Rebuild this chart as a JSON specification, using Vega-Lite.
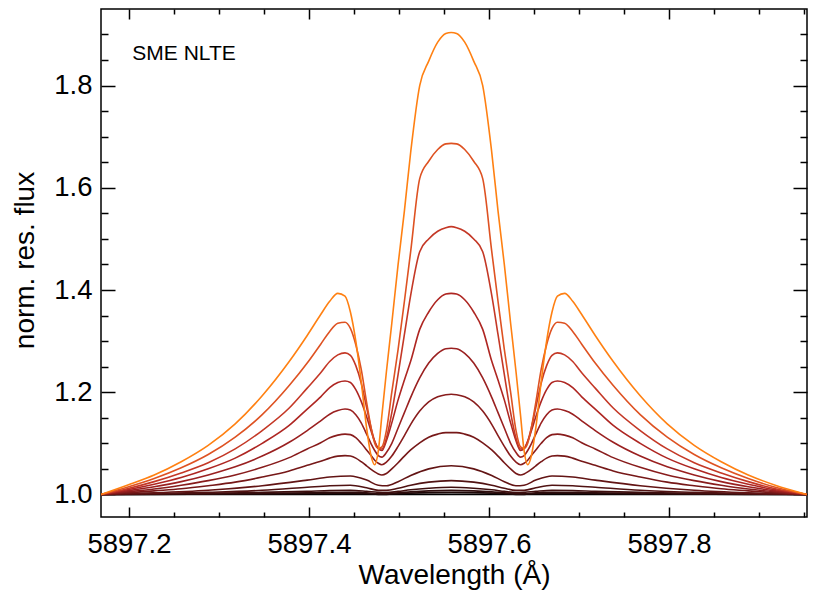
{
"$schema":"https://vega.github.io/schema/vega-lite/v6.json",
"width":706,"height":508,
"autosize":{"type":"none"},
"padding":{"left":101,"top":9,"right":6,"bottom":81},
"background":"white",
"config":{
"view":{"stroke":"black","strokeWidth":1.5},
"axis":{"grid":false,"domain":false,"tickColor":"black","tickWidth":1.5,"labelColor":"black","titleColor":"black","labelFont":"Liberation Sans","titleFont":"Liberation Sans","labelFontSize":27.5,"titleFontSize":28,"titleFontWeight":"normal","labelFlush":false,"labelOverlap":false}
},
"datasets":{
"curves":[
{"s":1,"w":5897.169,"f":1},{"s":1,"w":5897.953,"f":1},
{"s":2,"w":5897.169,"f":1},{"s":2,"w":5897.228,"f":1},{"s":2,"w":5897.288,"f":1.0005},{"s":2,"w":5897.348,"f":1.001},{"s":2,"w":5897.398,"f":1.0015},{"s":2,"w":5897.423,"f":1.002},{"s":2,"w":5897.446,"f":1.002},{"s":2,"w":5897.464,"f":1.0015},{"s":2,"w":5897.477,"f":1},{"s":2,"w":5897.486,"f":1},{"s":2,"w":5897.499,"f":1.0015},{"s":2,"w":5897.513,"f":1.0025},{"s":2,"w":5897.533,"f":1.0035},{"s":2,"w":5897.558,"f":1.004},
{"s":2,"w":5897.583,"f":1.0035},{"s":2,"w":5897.603,"f":1.0025},{"s":2,"w":5897.617,"f":1.0015},{"s":2,"w":5897.630,"f":1},{"s":2,"w":5897.639,"f":1},{"s":2,"w":5897.652,"f":1.0015},{"s":2,"w":5897.670,"f":1.002},{"s":2,"w":5897.693,"f":1.002},{"s":2,"w":5897.718,"f":1.0015},{"s":2,"w":5897.768,"f":1.001},{"s":2,"w":5897.828,"f":1.0005},{"s":2,"w":5897.888,"f":1},{"s":2,"w":5897.953,"f":1},
{"s":3,"w":5897.169,"f":1},{"s":3,"w":5897.228,"f":1.0005},{"s":3,"w":5897.288,"f":1.001},{"s":3,"w":5897.348,"f":1.002},{"s":3,"w":5897.398,"f":1.003},{"s":3,"w":5897.423,"f":1.0035},{"s":3,"w":5897.446,"f":1.004},{"s":3,"w":5897.464,"f":1.003},{"s":3,"w":5897.477,"f":1.0015},{"s":3,"w":5897.486,"f":1.0015},{"s":3,"w":5897.499,"f":1.003},{"s":3,"w":5897.513,"f":1.005},{"s":3,"w":5897.533,"f":1.007},{"s":3,"w":5897.558,"f":1.008},
{"s":3,"w":5897.583,"f":1.007},{"s":3,"w":5897.603,"f":1.005},{"s":3,"w":5897.617,"f":1.003},{"s":3,"w":5897.630,"f":1.0015},{"s":3,"w":5897.639,"f":1.0015},{"s":3,"w":5897.652,"f":1.003},{"s":3,"w":5897.670,"f":1.004},{"s":3,"w":5897.693,"f":1.0035},{"s":3,"w":5897.718,"f":1.003},{"s":3,"w":5897.768,"f":1.002},{"s":3,"w":5897.828,"f":1.001},{"s":3,"w":5897.888,"f":1.0005},{"s":3,"w":5897.953,"f":1},
{"s":4,"w":5897.169,"f":1},{"s":4,"w":5897.228,"f":1.001},{"s":4,"w":5897.288,"f":1.002},{"s":4,"w":5897.348,"f":1.004},{"s":4,"w":5897.398,"f":1.006},{"s":4,"w":5897.423,"f":1.0075},{"s":4,"w":5897.446,"f":1.008},{"s":4,"w":5897.464,"f":1.006},{"s":4,"w":5897.477,"f":1.004},{"s":4,"w":5897.486,"f":1.0035},{"s":4,"w":5897.499,"f":1.006},{"s":4,"w":5897.513,"f":1.009},{"s":4,"w":5897.533,"f":1.012},{"s":4,"w":5897.558,"f":1.014},
{"s":4,"w":5897.583,"f":1.012},{"s":4,"w":5897.603,"f":1.009},{"s":4,"w":5897.617,"f":1.006},{"s":4,"w":5897.630,"f":1.0035},{"s":4,"w":5897.639,"f":1.004},{"s":4,"w":5897.652,"f":1.006},{"s":4,"w":5897.670,"f":1.008},{"s":4,"w":5897.693,"f":1.0075},{"s":4,"w":5897.718,"f":1.006},{"s":4,"w":5897.768,"f":1.004},{"s":4,"w":5897.828,"f":1.002},{"s":4,"w":5897.888,"f":1.001},{"s":4,"w":5897.953,"f":1},
{"s":5,"w":5897.169,"f":1},{"s":5,"w":5897.228,"f":1.0015},{"s":5,"w":5897.288,"f":1.004},{"s":5,"w":5897.348,"f":1.008},{"s":5,"w":5897.398,"f":1.014},{"s":5,"w":5897.423,"f":1.017},{"s":5,"w":5897.446,"f":1.018},{"s":5,"w":5897.464,"f":1.013},{"s":5,"w":5897.477,"f":1.008},{"s":5,"w":5897.486,"f":1.008},{"s":5,"w":5897.499,"f":1.012},{"s":5,"w":5897.513,"f":1.018},{"s":5,"w":5897.533,"f":1.024},{"s":5,"w":5897.558,"f":1.027},
{"s":5,"w":5897.583,"f":1.024},{"s":5,"w":5897.603,"f":1.018},{"s":5,"w":5897.617,"f":1.012},{"s":5,"w":5897.630,"f":1.008},{"s":5,"w":5897.639,"f":1.008},{"s":5,"w":5897.652,"f":1.013},{"s":5,"w":5897.670,"f":1.018},{"s":5,"w":5897.693,"f":1.017},{"s":5,"w":5897.718,"f":1.014},{"s":5,"w":5897.768,"f":1.008},{"s":5,"w":5897.828,"f":1.004},{"s":5,"w":5897.888,"f":1.0015},{"s":5,"w":5897.953,"f":1},
{"s":6,"w":5897.169,"f":1},{"s":6,"w":5897.228,"f":1.003},{"s":6,"w":5897.288,"f":1.008},{"s":6,"w":5897.348,"f":1.017},{"s":6,"w":5897.398,"f":1.028},{"s":6,"w":5897.423,"f":1.034},{"s":6,"w":5897.446,"f":1.036},{"s":6,"w":5897.464,"f":1.028},{"s":6,"w":5897.477,"f":1.018},{"s":6,"w":5897.486,"f":1.017},{"s":6,"w":5897.499,"f":1.025},{"s":6,"w":5897.513,"f":1.037},{"s":6,"w":5897.533,"f":1.05},{"s":6,"w":5897.558,"f":1.056},
{"s":6,"w":5897.583,"f":1.05},{"s":6,"w":5897.603,"f":1.037},{"s":6,"w":5897.617,"f":1.025},{"s":6,"w":5897.630,"f":1.017},{"s":6,"w":5897.639,"f":1.018},{"s":6,"w":5897.652,"f":1.028},{"s":6,"w":5897.670,"f":1.036},{"s":6,"w":5897.693,"f":1.034},{"s":6,"w":5897.718,"f":1.028},{"s":6,"w":5897.768,"f":1.017},{"s":6,"w":5897.828,"f":1.008},{"s":6,"w":5897.888,"f":1.003},{"s":6,"w":5897.953,"f":1},
{"s":7,"w":5897.169,"f":1},{"s":7,"w":5897.198,"f":1.003},{"s":7,"w":5897.228,"f":1.007},{"s":7,"w":5897.258,"f":1.011},{"s":7,"w":5897.288,"f":1.017},{"s":7,"w":5897.318,"f":1.024},{"s":7,"w":5897.348,"f":1.034},{"s":7,"w":5897.378,"f":1.046},{"s":7,"w":5897.398,"f":1.057},{"s":7,"w":5897.413,"f":1.065},{"s":7,"w":5897.423,"f":1.071},{"s":7,"w":5897.432,"f":1.075},{"s":7,"w":5897.440,"f":1.076},{"s":7,"w":5897.446,"f":1.075},{"s":7,"w":5897.452,"f":1.071},{"s":7,"w":5897.458,"f":1.064},{"s":7,"w":5897.464,"f":1.056},{"s":7,"w":5897.469,"f":1.049},{"s":7,"w":5897.473,"f":1.044},{"s":7,"w":5897.477,"f":1.04},{"s":7,"w":5897.481,"f":1.038},{"s":7,"w":5897.486,"f":1.041},{"s":7,"w":5897.492,"f":1.05},{"s":7,"w":5897.499,"f":1.062},{"s":7,"w":5897.506,"f":1.075},{"s":7,"w":5897.513,"f":1.087},{"s":7,"w":5897.523,"f":1.101},{"s":7,"w":5897.533,"f":1.112},{"s":7,"w":5897.543,"f":1.118},{"s":7,"w":5897.552,"f":1.121},{"s":7,"w":5897.558,"f":1.121},
{"s":7,"w":5897.564,"f":1.121},{"s":7,"w":5897.573,"f":1.118},{"s":7,"w":5897.583,"f":1.112},{"s":7,"w":5897.593,"f":1.101},{"s":7,"w":5897.603,"f":1.087},{"s":7,"w":5897.610,"f":1.075},{"s":7,"w":5897.617,"f":1.062},{"s":7,"w":5897.624,"f":1.05},{"s":7,"w":5897.630,"f":1.041},{"s":7,"w":5897.635,"f":1.038},{"s":7,"w":5897.639,"f":1.04},{"s":7,"w":5897.643,"f":1.044},{"s":7,"w":5897.647,"f":1.049},{"s":7,"w":5897.652,"f":1.056},{"s":7,"w":5897.658,"f":1.064},{"s":7,"w":5897.664,"f":1.071},{"s":7,"w":5897.670,"f":1.075},{"s":7,"w":5897.676,"f":1.076},{"s":7,"w":5897.684,"f":1.075},{"s":7,"w":5897.693,"f":1.071},{"s":7,"w":5897.703,"f":1.065},{"s":7,"w":5897.718,"f":1.057},{"s":7,"w":5897.738,"f":1.046},{"s":7,"w":5897.768,"f":1.034},{"s":7,"w":5897.798,"f":1.024},{"s":7,"w":5897.828,"f":1.017},{"s":7,"w":5897.858,"f":1.011},{"s":7,"w":5897.888,"f":1.007},{"s":7,"w":5897.918,"f":1.003},{"s":7,"w":5897.953,"f":1},
{"s":8,"w":5897.169,"f":1},{"s":8,"w":5897.198,"f":1.005},{"s":8,"w":5897.228,"f":1.0105},{"s":8,"w":5897.258,"f":1.018},{"s":8,"w":5897.288,"f":1.027},{"s":8,"w":5897.318,"f":1.038},{"s":8,"w":5897.348,"f":1.053},{"s":8,"w":5897.378,"f":1.072},{"s":8,"w":5897.398,"f":1.089},{"s":8,"w":5897.413,"f":1.101},{"s":8,"w":5897.423,"f":1.111},{"s":8,"w":5897.432,"f":1.116},{"s":8,"w":5897.440,"f":1.118},{"s":8,"w":5897.446,"f":1.117},{"s":8,"w":5897.452,"f":1.111},{"s":8,"w":5897.458,"f":1.1},{"s":8,"w":5897.464,"f":1.087},{"s":8,"w":5897.469,"f":1.076},{"s":8,"w":5897.473,"f":1.067},{"s":8,"w":5897.477,"f":1.061},{"s":8,"w":5897.481,"f":1.058},{"s":8,"w":5897.486,"f":1.063},{"s":8,"w":5897.492,"f":1.075},{"s":8,"w":5897.499,"f":1.094},{"s":8,"w":5897.506,"f":1.115},{"s":8,"w":5897.513,"f":1.137},{"s":8,"w":5897.523,"f":1.163},{"s":8,"w":5897.533,"f":1.181},{"s":8,"w":5897.543,"f":1.191},{"s":8,"w":5897.552,"f":1.195},{"s":8,"w":5897.558,"f":1.196},
{"s":8,"w":5897.564,"f":1.195},{"s":8,"w":5897.573,"f":1.191},{"s":8,"w":5897.583,"f":1.181},{"s":8,"w":5897.593,"f":1.163},{"s":8,"w":5897.603,"f":1.137},{"s":8,"w":5897.610,"f":1.115},{"s":8,"w":5897.617,"f":1.094},{"s":8,"w":5897.624,"f":1.075},{"s":8,"w":5897.630,"f":1.063},{"s":8,"w":5897.635,"f":1.058},{"s":8,"w":5897.639,"f":1.061},{"s":8,"w":5897.643,"f":1.067},{"s":8,"w":5897.647,"f":1.076},{"s":8,"w":5897.652,"f":1.087},{"s":8,"w":5897.658,"f":1.1},{"s":8,"w":5897.664,"f":1.111},{"s":8,"w":5897.670,"f":1.117},{"s":8,"w":5897.676,"f":1.118},{"s":8,"w":5897.684,"f":1.116},{"s":8,"w":5897.693,"f":1.111},{"s":8,"w":5897.703,"f":1.101},{"s":8,"w":5897.718,"f":1.089},{"s":8,"w":5897.738,"f":1.072},{"s":8,"w":5897.768,"f":1.053},{"s":8,"w":5897.798,"f":1.038},{"s":8,"w":5897.828,"f":1.027},{"s":8,"w":5897.858,"f":1.018},{"s":8,"w":5897.888,"f":1.0105},{"s":8,"w":5897.918,"f":1.005},{"s":8,"w":5897.953,"f":1},
{"s":9,"w":5897.169,"f":1},{"s":9,"w":5897.198,"f":1.007},{"s":9,"w":5897.228,"f":1.015},{"s":9,"w":5897.258,"f":1.025},{"s":9,"w":5897.288,"f":1.038},{"s":9,"w":5897.318,"f":1.054},{"s":9,"w":5897.348,"f":1.075},{"s":9,"w":5897.378,"f":1.102},{"s":9,"w":5897.398,"f":1.125},{"s":9,"w":5897.413,"f":1.144},{"s":9,"w":5897.423,"f":1.157},{"s":9,"w":5897.432,"f":1.164},{"s":9,"w":5897.440,"f":1.167},{"s":9,"w":5897.446,"f":1.165},{"s":9,"w":5897.452,"f":1.156},{"s":9,"w":5897.458,"f":1.14},{"s":9,"w":5897.464,"f":1.118},{"s":9,"w":5897.469,"f":1.099},{"s":9,"w":5897.473,"f":1.086},{"s":9,"w":5897.477,"f":1.076},{"s":9,"w":5897.481,"f":1.073},{"s":9,"w":5897.486,"f":1.082},{"s":9,"w":5897.492,"f":1.1},{"s":9,"w":5897.499,"f":1.13},{"s":9,"w":5897.506,"f":1.16},{"s":9,"w":5897.513,"f":1.19},{"s":9,"w":5897.523,"f":1.228},{"s":9,"w":5897.533,"f":1.257},{"s":9,"w":5897.543,"f":1.276},{"s":9,"w":5897.552,"f":1.285},{"s":9,"w":5897.558,"f":1.286},
{"s":9,"w":5897.564,"f":1.285},{"s":9,"w":5897.573,"f":1.276},{"s":9,"w":5897.583,"f":1.257},{"s":9,"w":5897.593,"f":1.228},{"s":9,"w":5897.603,"f":1.19},{"s":9,"w":5897.610,"f":1.16},{"s":9,"w":5897.617,"f":1.13},{"s":9,"w":5897.624,"f":1.1},{"s":9,"w":5897.630,"f":1.082},{"s":9,"w":5897.635,"f":1.073},{"s":9,"w":5897.639,"f":1.076},{"s":9,"w":5897.643,"f":1.086},{"s":9,"w":5897.647,"f":1.099},{"s":9,"w":5897.652,"f":1.118},{"s":9,"w":5897.658,"f":1.14},{"s":9,"w":5897.664,"f":1.156},{"s":9,"w":5897.670,"f":1.165},{"s":9,"w":5897.676,"f":1.167},{"s":9,"w":5897.684,"f":1.164},{"s":9,"w":5897.693,"f":1.157},{"s":9,"w":5897.703,"f":1.144},{"s":9,"w":5897.718,"f":1.125},{"s":9,"w":5897.738,"f":1.102},{"s":9,"w":5897.768,"f":1.075},{"s":9,"w":5897.798,"f":1.054},{"s":9,"w":5897.828,"f":1.038},{"s":9,"w":5897.858,"f":1.025},{"s":9,"w":5897.888,"f":1.015},{"s":9,"w":5897.918,"f":1.007},{"s":9,"w":5897.953,"f":1},
{"s":10,"w":5897.169,"f":1},{"s":10,"w":5897.198,"f":1.009},{"s":10,"w":5897.228,"f":1.02},{"s":10,"w":5897.258,"f":1.033},{"s":10,"w":5897.288,"f":1.05},{"s":10,"w":5897.318,"f":1.071},{"s":10,"w":5897.348,"f":1.1},{"s":10,"w":5897.378,"f":1.135},{"s":10,"w":5897.398,"f":1.167},{"s":10,"w":5897.413,"f":1.191},{"s":10,"w":5897.423,"f":1.209},{"s":10,"w":5897.432,"f":1.219},{"s":10,"w":5897.440,"f":1.222},{"s":10,"w":5897.446,"f":1.219},{"s":10,"w":5897.452,"f":1.205},{"s":10,"w":5897.458,"f":1.182},{"s":10,"w":5897.464,"f":1.152},{"s":10,"w":5897.469,"f":1.124},{"s":10,"w":5897.473,"f":1.104},{"s":10,"w":5897.477,"f":1.09},{"s":10,"w":5897.481,"f":1.086},{"s":10,"w":5897.486,"f":1.105},{"s":10,"w":5897.492,"f":1.14},{"s":10,"w":5897.499,"f":1.185},{"s":10,"w":5897.506,"f":1.224},{"s":10,"w":5897.513,"f":1.261},{"s":10,"w":5897.523,"f":1.323},{"s":10,"w":5897.533,"f":1.357},{"s":10,"w":5897.543,"f":1.381},{"s":10,"w":5897.552,"f":1.392},{"s":10,"w":5897.558,"f":1.3935},
{"s":10,"w":5897.564,"f":1.392},{"s":10,"w":5897.573,"f":1.381},{"s":10,"w":5897.583,"f":1.357},{"s":10,"w":5897.593,"f":1.323},{"s":10,"w":5897.603,"f":1.261},{"s":10,"w":5897.610,"f":1.224},{"s":10,"w":5897.617,"f":1.185},{"s":10,"w":5897.624,"f":1.14},{"s":10,"w":5897.630,"f":1.105},{"s":10,"w":5897.635,"f":1.086},{"s":10,"w":5897.639,"f":1.09},{"s":10,"w":5897.643,"f":1.104},{"s":10,"w":5897.647,"f":1.124},{"s":10,"w":5897.652,"f":1.152},{"s":10,"w":5897.658,"f":1.182},{"s":10,"w":5897.664,"f":1.205},{"s":10,"w":5897.670,"f":1.219},{"s":10,"w":5897.676,"f":1.222},{"s":10,"w":5897.684,"f":1.219},{"s":10,"w":5897.693,"f":1.209},{"s":10,"w":5897.703,"f":1.191},{"s":10,"w":5897.718,"f":1.167},{"s":10,"w":5897.738,"f":1.135},{"s":10,"w":5897.768,"f":1.1},{"s":10,"w":5897.798,"f":1.071},{"s":10,"w":5897.828,"f":1.05},{"s":10,"w":5897.858,"f":1.033},{"s":10,"w":5897.888,"f":1.02},{"s":10,"w":5897.918,"f":1.009},{"s":10,"w":5897.953,"f":1},
{"s":11,"w":5897.169,"f":1},{"s":11,"w":5897.198,"f":1.011},{"s":11,"w":5897.228,"f":1.025},{"s":11,"w":5897.258,"f":1.042},{"s":11,"w":5897.288,"f":1.062},{"s":11,"w":5897.318,"f":1.089},{"s":11,"w":5897.348,"f":1.125},{"s":11,"w":5897.378,"f":1.169},{"s":11,"w":5897.398,"f":1.208},{"s":11,"w":5897.413,"f":1.238},{"s":11,"w":5897.423,"f":1.26},{"s":11,"w":5897.432,"f":1.273},{"s":11,"w":5897.440,"f":1.277},{"s":11,"w":5897.446,"f":1.272},{"s":11,"w":5897.452,"f":1.252},{"s":11,"w":5897.458,"f":1.218},{"s":11,"w":5897.464,"f":1.17},{"s":11,"w":5897.469,"f":1.13},{"s":11,"w":5897.473,"f":1.104},{"s":11,"w":5897.477,"f":1.09},{"s":11,"w":5897.481,"f":1.089},{"s":11,"w":5897.486,"f":1.11},{"s":11,"w":5897.492,"f":1.16},{"s":11,"w":5897.499,"f":1.235},{"s":11,"w":5897.506,"f":1.313},{"s":11,"w":5897.513,"f":1.39},{"s":11,"w":5897.523,"f":1.475},{"s":11,"w":5897.533,"f":1.5},{"s":11,"w":5897.543,"f":1.515},{"s":11,"w":5897.552,"f":1.522},{"s":11,"w":5897.558,"f":1.524},
{"s":11,"w":5897.564,"f":1.522},{"s":11,"w":5897.573,"f":1.515},{"s":11,"w":5897.583,"f":1.5},{"s":11,"w":5897.593,"f":1.475},{"s":11,"w":5897.603,"f":1.39},{"s":11,"w":5897.610,"f":1.313},{"s":11,"w":5897.617,"f":1.235},{"s":11,"w":5897.624,"f":1.16},{"s":11,"w":5897.630,"f":1.11},{"s":11,"w":5897.635,"f":1.089},{"s":11,"w":5897.639,"f":1.09},{"s":11,"w":5897.643,"f":1.104},{"s":11,"w":5897.647,"f":1.13},{"s":11,"w":5897.652,"f":1.17},{"s":11,"w":5897.658,"f":1.218},{"s":11,"w":5897.664,"f":1.252},{"s":11,"w":5897.670,"f":1.272},{"s":11,"w":5897.676,"f":1.277},{"s":11,"w":5897.684,"f":1.273},{"s":11,"w":5897.693,"f":1.26},{"s":11,"w":5897.703,"f":1.238},{"s":11,"w":5897.718,"f":1.208},{"s":11,"w":5897.738,"f":1.169},{"s":11,"w":5897.768,"f":1.125},{"s":11,"w":5897.798,"f":1.089},{"s":11,"w":5897.828,"f":1.062},{"s":11,"w":5897.858,"f":1.042},{"s":11,"w":5897.888,"f":1.025},{"s":11,"w":5897.918,"f":1.011},{"s":11,"w":5897.953,"f":1},
{"s":12,"w":5897.169,"f":1},{"s":12,"w":5897.198,"f":1.014},{"s":12,"w":5897.228,"f":1.031},{"s":12,"w":5897.258,"f":1.052},{"s":12,"w":5897.288,"f":1.078},{"s":12,"w":5897.318,"f":1.112},{"s":12,"w":5897.348,"f":1.156},{"s":12,"w":5897.378,"f":1.213},{"s":12,"w":5897.398,"f":1.257},{"s":12,"w":5897.413,"f":1.294},{"s":12,"w":5897.423,"f":1.319},{"s":12,"w":5897.432,"f":1.335},{"s":12,"w":5897.440,"f":1.337},{"s":12,"w":5897.446,"f":1.325},{"s":12,"w":5897.452,"f":1.293},{"s":12,"w":5897.458,"f":1.245},{"s":12,"w":5897.464,"f":1.18},{"s":12,"w":5897.469,"f":1.13},{"s":12,"w":5897.473,"f":1.1},{"s":12,"w":5897.477,"f":1.09},{"s":12,"w":5897.481,"f":1.093},{"s":12,"w":5897.486,"f":1.125},{"s":12,"w":5897.492,"f":1.2},{"s":12,"w":5897.499,"f":1.284},{"s":12,"w":5897.506,"f":1.378},{"s":12,"w":5897.513,"f":1.476},{"s":12,"w":5897.523,"f":1.618},{"s":12,"w":5897.533,"f":1.652},{"s":12,"w":5897.543,"f":1.675},{"s":12,"w":5897.552,"f":1.686},{"s":12,"w":5897.558,"f":1.687},
{"s":12,"w":5897.564,"f":1.686},{"s":12,"w":5897.573,"f":1.675},{"s":12,"w":5897.583,"f":1.652},{"s":12,"w":5897.593,"f":1.618},{"s":12,"w":5897.603,"f":1.476},{"s":12,"w":5897.610,"f":1.378},{"s":12,"w":5897.617,"f":1.284},{"s":12,"w":5897.624,"f":1.2},{"s":12,"w":5897.630,"f":1.125},{"s":12,"w":5897.635,"f":1.093},{"s":12,"w":5897.639,"f":1.09},{"s":12,"w":5897.643,"f":1.1},{"s":12,"w":5897.647,"f":1.13},{"s":12,"w":5897.652,"f":1.18},{"s":12,"w":5897.658,"f":1.245},{"s":12,"w":5897.664,"f":1.293},{"s":12,"w":5897.670,"f":1.325},{"s":12,"w":5897.676,"f":1.337},{"s":12,"w":5897.684,"f":1.335},{"s":12,"w":5897.693,"f":1.319},{"s":12,"w":5897.703,"f":1.294},{"s":12,"w":5897.718,"f":1.257},{"s":12,"w":5897.738,"f":1.213},{"s":12,"w":5897.768,"f":1.156},{"s":12,"w":5897.798,"f":1.112},{"s":12,"w":5897.828,"f":1.078},{"s":12,"w":5897.858,"f":1.052},{"s":12,"w":5897.888,"f":1.031},{"s":12,"w":5897.918,"f":1.014},{"s":12,"w":5897.953,"f":1},
{"s":13,"w":5897.169,"f":1},{"s":13,"w":5897.198,"f":1.018},{"s":13,"w":5897.228,"f":1.038},{"s":13,"w":5897.258,"f":1.064},{"s":13,"w":5897.288,"f":1.096},{"s":13,"w":5897.318,"f":1.138},{"s":13,"w":5897.348,"f":1.193},{"s":13,"w":5897.378,"f":1.26},{"s":13,"w":5897.398,"f":1.311},{"s":13,"w":5897.413,"f":1.352},{"s":13,"w":5897.423,"f":1.378},{"s":13,"w":5897.432,"f":1.3935},{"s":13,"w":5897.440,"f":1.388},{"s":13,"w":5897.446,"f":1.357},{"s":13,"w":5897.452,"f":1.3},{"s":13,"w":5897.458,"f":1.221},{"s":13,"w":5897.464,"f":1.13},{"s":13,"w":5897.469,"f":1.075},{"s":13,"w":5897.473,"f":1.058},{"s":13,"w":5897.477,"f":1.085},{"s":13,"w":5897.481,"f":1.155},{"s":13,"w":5897.486,"f":1.24},{"s":13,"w":5897.492,"f":1.335},{"s":13,"w":5897.499,"f":1.45},{"s":13,"w":5897.506,"f":1.555},{"s":13,"w":5897.513,"f":1.67},{"s":13,"w":5897.523,"f":1.8},{"s":13,"w":5897.533,"f":1.848},{"s":13,"w":5897.543,"f":1.885},{"s":13,"w":5897.552,"f":1.902},{"s":13,"w":5897.558,"f":1.904},
{"s":13,"w":5897.564,"f":1.902},{"s":13,"w":5897.573,"f":1.885},{"s":13,"w":5897.583,"f":1.848},{"s":13,"w":5897.593,"f":1.8},{"s":13,"w":5897.603,"f":1.67},{"s":13,"w":5897.610,"f":1.555},{"s":13,"w":5897.617,"f":1.45},{"s":13,"w":5897.624,"f":1.335},{"s":13,"w":5897.630,"f":1.24},{"s":13,"w":5897.635,"f":1.155},{"s":13,"w":5897.639,"f":1.085},{"s":13,"w":5897.643,"f":1.058},{"s":13,"w":5897.647,"f":1.075},{"s":13,"w":5897.652,"f":1.13},{"s":13,"w":5897.658,"f":1.221},{"s":13,"w":5897.664,"f":1.3},{"s":13,"w":5897.670,"f":1.357},{"s":13,"w":5897.676,"f":1.388},{"s":13,"w":5897.684,"f":1.3935},{"s":13,"w":5897.693,"f":1.378},{"s":13,"w":5897.703,"f":1.352},{"s":13,"w":5897.718,"f":1.311},{"s":13,"w":5897.738,"f":1.26},{"s":13,"w":5897.768,"f":1.193},{"s":13,"w":5897.798,"f":1.138},{"s":13,"w":5897.828,"f":1.096},{"s":13,"w":5897.858,"f":1.064},{"s":13,"w":5897.888,"f":1.038},{"s":13,"w":5897.918,"f":1.018},{"s":13,"w":5897.953,"f":1}
],
"label":[{"w":5897.2037,"f":1.85,"t":"SME NLTE"}],
"dummy":[{"w":5897.5,"f":1.5}]
},
"layer":[
{"data":{"name":"curves"},
"mark":{"type":"line","strokeWidth":1.6,"interpolate":"monotone"},
"encoding":{
"x":{"field":"w","type":"quantitative","scale":{"domain":[5897.1689,5897.9533],"nice":false,"zero":false},
"axis":{"orient":"bottom","values":[5897.2,5897.4,5897.6,5897.8],"format":".1f","tickSize":0,"labelPadding":35,"labelBaseline":"alphabetic","title":"Wavelength (Å)","titleX":353,"titleY":66,"titleBaseline":"alphabetic","titleAlign":"center"}},
"y":{"field":"f","type":"quantitative","scale":{"domain":[0.9558,1.9499],"nice":false,"zero":false},
"axis":{"orient":"left","values":[1,1.2,1.4,1.6,1.8],"format":".1f","tickSize":0,"labelPadding":9,"title":"norm. res. flux","titleX":-67.5,"titleY":251,"titleAngle":270,"titleBaseline":"alphabetic","titleAlign":"center"}},
"color":{"field":"s","type":"nominal","scale":{"domain":[1,2,3,4,5,6,7,8,9,10,11,12,13],"range":["#000000","#1e0808","#2e0c0c","#3e0e0e","#501212","#621414","#761818","#881c1c","#9a2020","#ae2622","#c43826","#de5222","#ff8012"]},"legend":null}
}},
{"data":{"name":"dummy"},"mark":{"type":"point","opacity":0},
"encoding":{
"x":{"field":"w","type":"quantitative","axis":{"orient":"bottom","values":[5897.2,5897.4,5897.6,5897.8],"tickSize":-10,"labels":false,"title":null}},
"y":{"field":"f","type":"quantitative","axis":{"orient":"left","values":[1,1.2,1.4,1.6,1.8],"tickSize":-14,"labels":false,"title":null}}
}},
{"data":{"name":"dummy"},"mark":{"type":"point","opacity":0},
"encoding":{
"x":{"field":"w","type":"quantitative","axis":{"orient":"bottom","values":[5897.25,5897.3,5897.35,5897.45,5897.5,5897.55,5897.65,5897.7,5897.75,5897.85,5897.9,5897.95],"tickSize":-5,"labels":false,"title":null}},
"y":{"field":"f","type":"quantitative","axis":{"orient":"left","values":[1.05,1.1,1.15,1.25,1.3,1.35,1.45,1.5,1.55,1.65,1.7,1.75,1.85,1.9],"tickSize":-7,"labels":false,"title":null}}
}},
{"data":{"name":"dummy"},"mark":{"type":"point","opacity":0},
"encoding":{
"x":{"field":"w","type":"quantitative","axis":{"orient":"top","values":[5897.2,5897.4,5897.6,5897.8],"tickSize":-10,"labels":false,"title":null}},
"y":{"field":"f","type":"quantitative","axis":{"orient":"right","values":[1,1.2,1.4,1.6,1.8],"tickSize":-14,"labels":false,"title":null}}
}},
{"data":{"name":"dummy"},"mark":{"type":"point","opacity":0},
"encoding":{
"x":{"field":"w","type":"quantitative","axis":{"orient":"top","values":[5897.25,5897.3,5897.35,5897.45,5897.5,5897.55,5897.65,5897.7,5897.75,5897.85,5897.9,5897.95],"tickSize":-5,"labels":false,"title":null}},
"y":{"field":"f","type":"quantitative","axis":{"orient":"right","values":[1.05,1.1,1.15,1.25,1.3,1.35,1.45,1.5,1.55,1.65,1.7,1.75,1.85,1.9],"tickSize":-7,"labels":false,"title":null}}
}},
{"data":{"name":"label"},"mark":{"type":"text","align":"left","baseline":"alphabetic","fontSize":21,"font":"Liberation Sans","color":"black"},
"encoding":{
"x":{"field":"w","type":"quantitative","axis":null},
"y":{"field":"f","type":"quantitative","axis":null},
"text":{"field":"t"}
}}
],
"resolve":{"axis":{"x":"independent","y":"independent"}}
}
